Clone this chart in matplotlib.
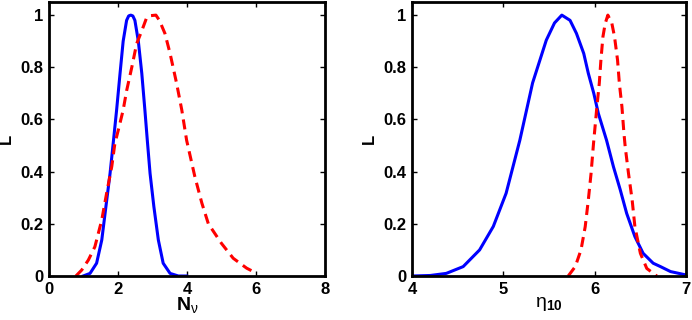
import matplotlib
matplotlib.use('Agg')
import matplotlib.pyplot as plt

plt.rcParams['font.family'] = 'Liberation Sans'
plt.rcParams['mathtext.fontset'] = 'custom'
plt.rcParams['mathtext.rm'] = 'Liberation Sans:weight=normal'
plt.rcParams['mathtext.bf'] = 'Liberation Sans:weight=bold'
plt.rcParams['mathtext.it'] = 'Liberation Sans:italic:weight=normal'

# N_nu panel
nnu_blue_x = [0.99, 1.19, 1.38, 1.53, 1.65, 1.77, 1.87, 1.96, 2.06, 2.15, 2.25, 2.31, 2.37, 2.43,
              2.49, 2.59, 2.69, 2.78, 2.85, 2.93, 3.04, 3.17, 3.31, 3.51, 3.75, 3.99]
nnu_blue_L = [0, 0.01, 0.049, 0.138, 0.266, 0.393, 0.52, 0.636, 0.777, 0.90, 0.98, 0.997, 1.0, 0.997,
              0.98, 0.90, 0.777, 0.636, 0.52, 0.393, 0.266, 0.138, 0.049, 0.01, 0.0, 0.0]
nnu_red_x = [0.78, 0.95, 1.14, 1.33, 1.53, 1.67, 1.82, 1.91, 2.01, 2.15, 2.25, 2.40, 2.54, 2.69,
             2.83, 2.95, 3.10, 3.20, 3.36, 3.51, 3.70, 3.85, 3.99, 4.23, 4.43, 4.62, 5.0, 5.34,
             5.73, 5.95]
nnu_red_L = [0, 0.023, 0.061, 0.112, 0.215, 0.317, 0.42, 0.508, 0.56, 0.636, 0.71, 0.80, 0.89, 0.94,
             0.99, 0.998, 1.0, 0.98, 0.93, 0.853, 0.738, 0.636, 0.52, 0.38, 0.28, 0.20, 0.125, 0.068,
             0.03, 0.015]

# eta_10 panel
eta_blue_x = [4.0, 4.2, 4.375, 4.56, 4.74, 4.89, 5.03, 5.18, 5.32, 5.47, 5.56, 5.64, 5.73, 5.80,
              5.88, 5.93, 5.99, 6.04, 6.13, 6.205, 6.28, 6.35, 6.44, 6.53, 6.64, 6.72, 6.83, 7.0]
eta_blue_L = [0, 0.002, 0.01, 0.036, 0.10, 0.19, 0.317, 0.52, 0.74, 0.904, 0.97, 1.0, 0.98, 0.93,
              0.853, 0.777, 0.70, 0.623, 0.52, 0.419, 0.33, 0.24, 0.151, 0.087, 0.049, 0.036, 0.017,
              0.004]
eta_red_x = [5.71, 5.787, 5.85, 5.896, 5.93, 5.96, 5.987, 6.024, 6.05, 6.068, 6.09, 6.115, 6.144,
             6.188, 6.217, 6.25, 6.27, 6.298, 6.32, 6.334, 6.37, 6.41, 6.44, 6.50, 6.57, 6.68]
eta_red_L = [0, 0.036, 0.10, 0.189, 0.291, 0.393, 0.508, 0.649, 0.738, 0.828, 0.917, 0.968, 1.0,
             0.968, 0.917, 0.828, 0.738, 0.649, 0.547, 0.495, 0.393, 0.291, 0.189, 0.087, 0.029, 0]

yticks = [0, 0.2, 0.4, 0.6, 0.8, 1]
ytick_labels = ['0', '0.2', '0.4', '0.6', '0.8', '1']

fig = plt.figure(figsize=(6.92, 3.2), dpi=100)
ax1 = fig.add_axes([0.0708, 0.1375, 0.3988, 0.856])
ax2 = fig.add_axes([0.5954, 0.1375, 0.396, 0.856])

ax1.plot(nnu_blue_x, nnu_blue_L, color='blue', lw=2.2)
ax1.plot(nnu_red_x, nnu_red_L, color='red', lw=2.2, dashes=(3.3, 2))
ax1.set_xlim(0, 8)
ax1.set_xticks([0, 2, 4, 6, 8])
ax1.set_xlabel(r'$\mathbf{N}_{\mathrm{\nu}}$', fontsize=14, labelpad=-1)

ax2.plot(eta_blue_x, eta_blue_L, color='blue', lw=2.2)
ax2.plot(eta_red_x, eta_red_L, color='red', lw=2.2, dashes=(3.3, 2))
ax2.set_xlim(4, 7)
ax2.set_xticks([4, 5, 6, 7])
ax2.set_xlabel(r'$\mathrm{\eta}_{\mathbf{10}}$', fontsize=14, labelpad=-1)

for ax in (ax1, ax2):
    ax.set_ylim(0, 1.05)
    ax.set_yticks(yticks)
    ax.set_yticklabels(ytick_labels)
    ax.set_ylabel('L', fontsize=12, fontweight='bold', labelpad=5)
    ax.tick_params(direction='in', top=True, right=True, length=3.5, width=1,
                   labelsize=12, pad=4)
    for s in ax.spines.values():
        s.set_linewidth(2)
    for lab in ax.get_xticklabels() + ax.get_yticklabels():
        lab.set_fontweight('bold')

fig.savefig('out.png', dpi=100)
